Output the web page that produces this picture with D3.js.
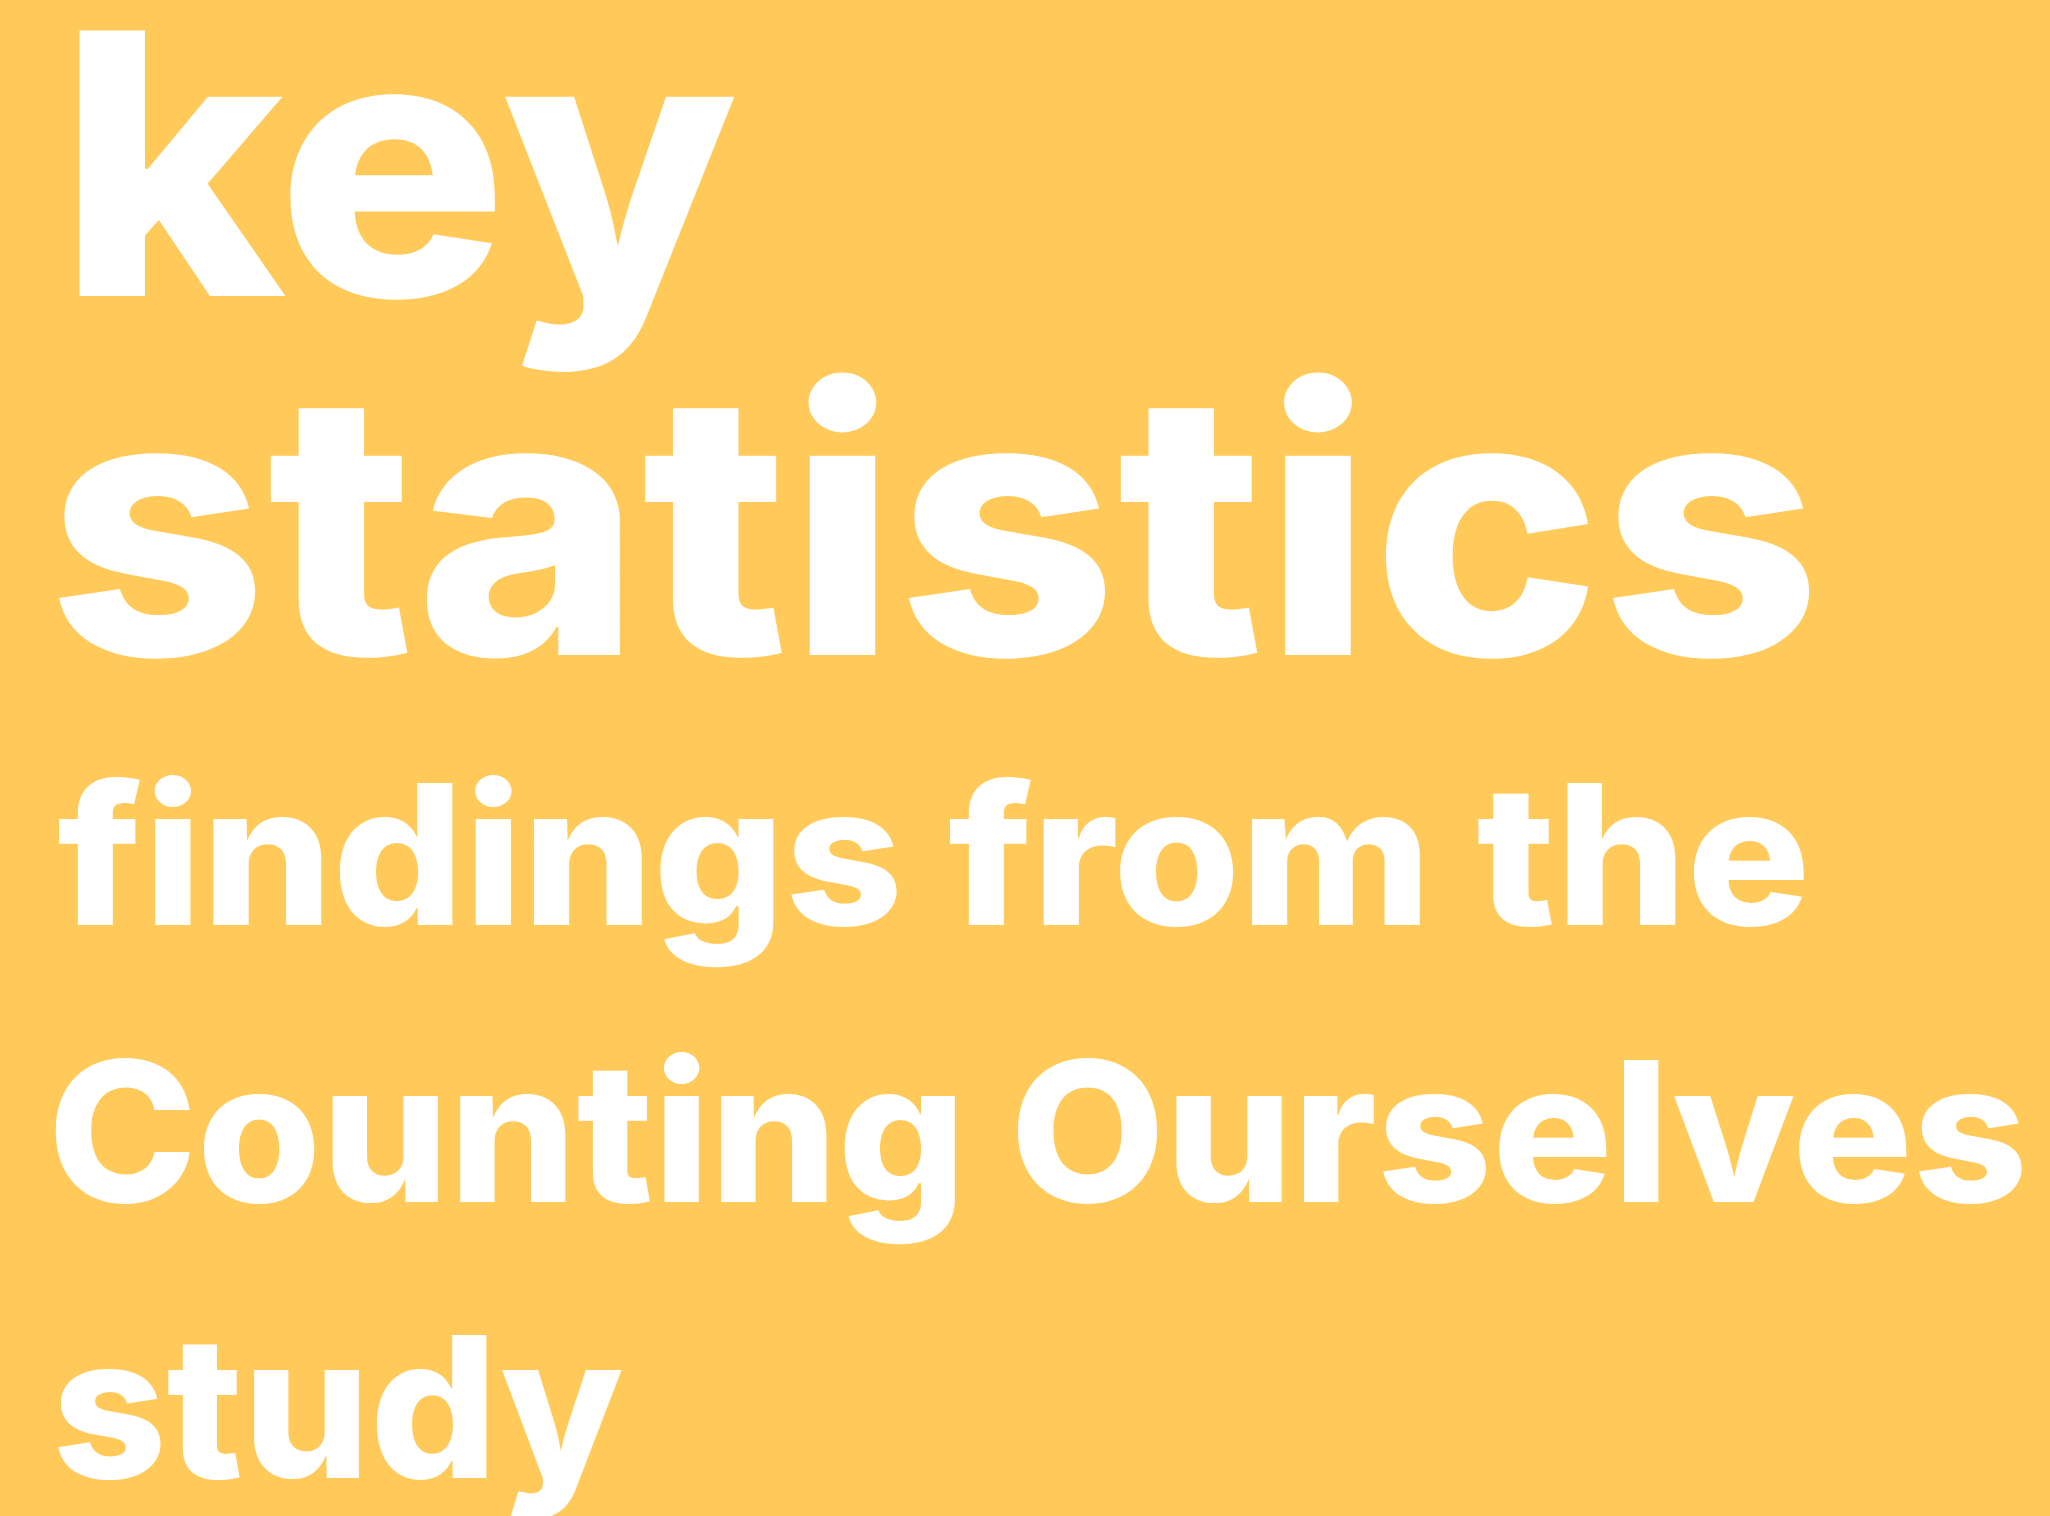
<!DOCTYPE html>
<html lang="en">
<head>
    <meta charset="UTF-8">
    <title>key statistics</title>
    <script src="https://cdn.jsdelivr.net/npm/d3@7/dist/d3.min.js"></script>
    <style>
        html, body { margin: 0; padding: 0; background: #FFCA5A; }
        text { font-variant-ligatures: none; }
    </style>
</head>
<body>

<script>

    var width = 2050;
    var height = 1516;

    // the text lines, top to bottom
    var lines = ["key", "statistics", "findings from the", "Counting Ourselves", "study"];

    // layout per line: baseline, font size, and where the ink starts / ends in the picture
    var baselines = [296, 655, 925, 1202, 1478];
    var fontSizes = [365, 365, 195, 195, 197];
    var inkLeft = [76, 59, 58, 55, 58];
    var inkRight = [735, 1811, 1804, 2022, 622];

    var fontFamily = "Inter, Roboto, sans-serif";
    var fontWeight = 800;

    var svg = d3.select("body").append("svg")
        .attr("width", width)
        .attr("height", height);

    svg.append("rect")
        .attr("width", width)
        .attr("height", height)
        .attr("fill", "#FFCA5A");

    // measure the ink of each line so it can be fitted between inkLeft and inkRight
    var ctx = document.createElement("canvas").getContext("2d");
    var fit = lines.map(function (d, i) {
        ctx.font = fontWeight + " " + fontSizes[i] + "px " + fontFamily;
        var m = ctx.measureText(d);
        var ink = m.actualBoundingBoxLeft + m.actualBoundingBoxRight;
        var s = (inkRight[i] - inkLeft[i]) / ink;
        return {
            x: inkLeft[i] + m.actualBoundingBoxLeft * s,
            len: m.width * s
        };
    });

    svg.selectAll("text.line")
        .data(lines)
        .enter().append("text")
        .attr("class", "line")
        .attr("x", function (d, i) { return fit[i].x; })
        .attr("y", function (d, i) { return baselines[i]; })
        .attr("font-family", fontFamily)
        .attr("font-weight", fontWeight)
        .attr("font-size", function (d, i) { return fontSizes[i]; })
        .attr("textLength", function (d, i) { return fit[i].len; })
        .attr("lengthAdjust", "spacingAndGlyphs")
        .attr("fill", "#ffffff")
        .text(function (d) { return d; });

</script>
</body>
</html>
